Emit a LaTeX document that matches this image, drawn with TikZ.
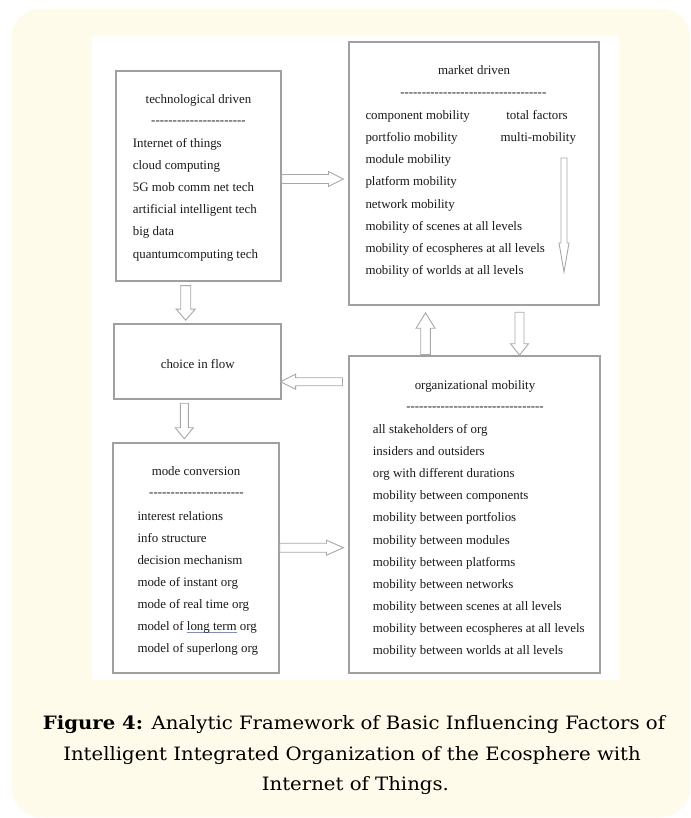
\documentclass[tikz,border=0pt]{standalone}
\usepackage{fontspec}
\setmainfont{Liberation Serif}
\newfontfamily\capfont{DejaVu Serif}[FakeStretch=1.07]
\usetikzlibrary{calc}
\definecolor{cream}{RGB}{255,251,235}
\definecolor{boxgray}{RGB}{160,160,160}
\definecolor{arrgray}{RGB}{168,168,168}
\definecolor{txtc}{RGB}{25,25,25}
\definecolor{ulblue}{RGB}{110,145,220}
\newcount\dashcnt
\newcommand\dashrow[1]{\dashcnt=0 \loop\ifnum\dashcnt<#1 -\kern0pt\advance\dashcnt by 1 \repeat}
\newcommand\blueul[1]{\setbox0\hbox{#1}\rlap{\color{ulblue}\rule[-2.4pt]{\wd0}{1.2pt}}\box0\relax}
\begin{document}
\begin{tikzpicture}[x=1pt,y=-1pt,
  box/.style={draw=boxgray, line width=1.1pt, fill=white, inner sep=0pt},
  txt/.style={font=\fontsize{12.9}{15}\selectfont, text=txtc, inner sep=0pt},
  item/.style={txt, anchor=base west},
  ctr/.style={txt, anchor=base},
  captext/.style={font=\capfont\fontsize{18.4}{20}\selectfont, text=black, inner sep=0pt, anchor=base},
  fat/.style n args={3}{draw=arrgray, line width=0.9pt, fill=white, line join=miter,
    to path={let \p1=(\tikztostart), \p2=(\tikztotarget),
      \n1={atan2(\y2-\y1,\x2-\x1)}, \n2={veclen(\x2-\x1,\y2-\y1)-#3} in
      ($(\p1)+(\n1+90:#1pt)$) -- ($(\p1)+(\n1:\n2)+(\n1+90:#1pt)$)
      -- ($(\p1)+(\n1:\n2)+(\n1+90:#2pt)$) -- (\p2)
      -- ($(\p1)+(\n1:\n2)+(\n1-90:#2pt)$) -- ($(\p1)+(\n1:\n2)+(\n1-90:#1pt)$)
      -- ($(\p1)+(\n1-90:#1pt)$) -- cycle}}
]
\useasboundingbox (0,0) rectangle (690,818);
\fill[white] (0,0) rectangle (690,818);
\fill[cream, rounded corners=28pt] (12,9) rectangle (690,817);
\fill[white] (92,36) rectangle (619,680);

% boxes
\node[box, minimum width=165pt, minimum height=210pt] (tech) at (198.5,176) {};
\node[box, minimum width=250pt, minimum height=263pt] (market) at (474,173.5) {};
\node[box, minimum width=167pt, minimum height=75pt] (choice) at (197.5,361.5) {};
\node[box, minimum width=166pt, minimum height=230pt] (mode) at (196,558) {};
\node[box, minimum width=251pt, minimum height=317pt] (org) at (474.5,514.5) {};

% technological driven
\node[ctr] (techT) at (198.5,103.3) {technological driven};
\node[ctr] (techD) at (198.5,125) {\dashrow{22}};
\foreach \t [count=\i from 0] in {Internet of things, cloud computing, 5G mob comm net tech, artificial intelligent tech, big data, quantumcomputing tech}
  \node[item] (techI\i) at (132.7,148+22*\i) {\t};

% market driven
\node[ctr] (mkT) at (474,75) {market driven};
\node[ctr] (mkD) at (473.3,96.6) {\dashrow{34}};
\foreach \t [count=\i from 0] in {component mobility, portfolio mobility, module mobility, platform mobility, network mobility, mobility of scenes at all levels, mobility of ecospheres at all levels, mobility of worlds at all levels}
  \node[item] (mkI\i) at (365.3,120+22*\i) {\t};
\node[ctr] (mkR1) at (537,120) {total factors};
\node[ctr] (mkR2) at (538.3,142) {multi-mobility};

% choice in flow
\node[ctr] (choiceT) at (197.7,368) {choice in flow};

% mode conversion
\node[ctr] (modeT) at (196,475.7) {mode conversion};
\node[ctr] (modeD) at (196.5,496.6) {\dashrow{22}};
\foreach \t [count=\i from 0] in {interest relations, info structure, decision mechanism, mode of instant org, mode of real time org, model of \blueul{long term} org, model of superlong org}
  \node[item] (modeI\i) at (137.3,520+22.1*\i) {\t};

% organizational mobility
\node[ctr] (orgT) at (475,389) {organizational mobility};
\node[ctr] (orgD) at (475,410.6) {\dashrow{32}};
\foreach \t [count=\i from 0] in {all stakeholders of org, insiders and outsiders, org with different durations, mobility between components, mobility between portfolios, mobility between modules, mobility between platforms, mobility between networks, mobility between scenes at all levels, mobility between ecospheres at all levels, mobility between worlds at all levels}
  \node[item] (orgI\i) at (372.7,433.3+22.14*\i) {\t};

% arrows
\draw[fat={4.5}{7.5}{15}] ([yshift=-3pt]tech.east) to ([xshift=-5pt,yshift=-5.5pt]market.west);
\coordinate (md1) at (564,158);
\coordinate (md2) at (564,272);
\draw[fat={3}{5}{29}] (md1) to (md2);
\draw[fat={5}{9.5}{11}] ([xshift=-12.8pt,yshift=-4pt]tech.south) to ([xshift=-11.8pt,yshift=3.3pt]choice.north);
\draw[fat={4}{7.5}{15}] ([xshift=-6pt,yshift=132.8pt]org.west) to ([xshift=-1pt,yshift=-20.2pt]choice.east);
\draw[fat={4}{9}{11}] ([xshift=-13.2pt,yshift=-3.7pt]choice.south) to ([xshift=-11.7pt,yshift=3.7pt]mode.north);
\draw[fat={4.5}{7.5}{17}] ([yshift=10.3pt]mode.east) to ([xshift=-5pt,yshift=-33.2pt]org.west);
\draw[fat={4.8}{9.5}{15.4}] ([xshift=-49pt,yshift=1pt]org.north) to ([xshift=-48.5pt,yshift=-7.3pt]market.south);
\draw[fat={4.5}{9}{11.4}] ([xshift=45.5pt,yshift=-6.7pt]market.south) to ([xshift=45pt,yshift=0.3pt]org.north);

% caption
\node[captext] (cap1) at (354,729.3) {\textbf{Figure 4:} Analytic Framework of Basic Influencing Factors of};
\node[captext] (cap2) at (352,760) {Intelligent Integrated Organization of the Ecosphere with};
\node[captext] (cap3) at (355.4,790.7) {Internet of Things.};
\end{tikzpicture}
\end{document}
